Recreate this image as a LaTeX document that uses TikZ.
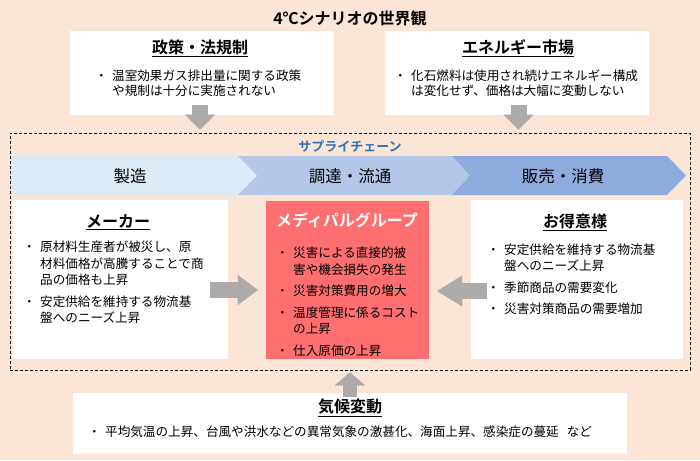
\documentclass[tikz,border=0pt]{standalone}
\usepackage{fontspec}
\setmainfont{Noto Sans CJK JP}[BoldFont={Noto Sans CJK JP Bold}]
\usetikzlibrary{positioning,arrows.meta}
\definecolor{peach}{HTML}{FBE5D6}
\definecolor{chainlight}{HTML}{DDEBF7}
\definecolor{chainmid}{HTML}{B4C7E7}
\definecolor{chaindark}{HTML}{8FAADC}
\definecolor{groupred}{HTML}{FF6F6F}
\definecolor{chainblue}{HTML}{2E75B6}
\definecolor{arrowgray}{HTML}{AEAAAA}
\newcommand{\bul}{\makebox[17pt][l]{・}}
\newcommand{\cont}{\hspace*{17pt}}

\begin{document}
\begin{tikzpicture}[x=1pt, y=-1pt,
	whitebox/.style={fill=white, inner sep=0pt},
	headtext/.style={font=\fontsize{16}{18}\selectfont\bfseries},
	bodytext/.style={font=\fontsize{12.6}{16.5}\selectfont, align=left, anchor=west, inner sep=0pt},
	chaintext/.style={font=\fontsize{16.5}{18}\selectfont},
	grayarrow/.style={draw=arrowgray, line width=16pt}]

	\useasboundingbox (0,0) rectangle (700,460);
	\fill[peach] (0,0) rectangle (700,460);

	\node[headtext] (title) at (350,18) {4℃シナリオの世界観};

	% scenario boxes
	\node[whitebox, minimum width=264pt, minimum height=84pt] (policy) at (202,73) {};
	\node[whitebox, minimum width=264pt, minimum height=84pt] (energy) at (517,73) {};
	\node[headtext] (policyhead) at (200,48) {\underline{政策・法規制}};
	\node[headtext] (energyhead) at (518,48) {\underline{エネルギー市場}};
	\node[bodytext, font=\fontsize{12.6}{15}\selectfont] (policybody) at (95,83.5)
		{\bul 温室効果ガス排出量に関する政策\\ \cont や規制は十分に実施されない};
	\node[bodytext, font=\fontsize{12.6}{15}\selectfont] (energybody) at (394,83.5)
		{\bul 化石燃料は使用され続けエネルギー構成\\ \cont は変化せず、価格は大幅に変動しない};

	% supply chain
	\node[draw, dashed, line width=0.6pt, dash pattern=on 3pt off 2pt, inner sep=0pt,
		minimum width=680pt, minimum height=237pt] (chain) at (350,251.5) {};
	\node[font=\fontsize{13}{15}\selectfont\bfseries, text=chainblue] (chainlabel) at (350,146) {サプライチェーン};

	\fill[chainlight] (11,156) -- (238,156) -- (257,175.5) -- (238,195) -- (11,195) -- cycle;
	\fill[chainmid] (238,156) -- (452,156) -- (470,175.5) -- (452,195) -- (238,195) -- (257,175.5) -- cycle;
	\fill[chaindark] (452,156) -- (667,156) -- (686,175.5) -- (667,195) -- (452,195) -- (470,175.5) -- cycle;
	\node[chaintext] (make) at (130,176) {製造};
	\node[chaintext] (procure) at (350,176) {調達・流通};
	\node[chaintext] (sell) at (563,176) {販売・消費};

	\node[whitebox, minimum width=215pt, minimum height=159pt] (maker) at (120.5,279.5) {};
	\node[fill=groupred, inner sep=0pt, minimum width=163pt, minimum height=158pt] (group) at (347.5,280) {};
	\node[whitebox, minimum width=212pt, minimum height=159pt] (customer) at (577,279.5) {};

	\node[headtext] (makerhead) at (118,222) {\underline{メーカー}};
	\node[headtext, text=white] (grouphead) at (347,220) {メディパルグループ};
	\node[headtext] (customerhead) at (575,222) {\underline{お得意様}};

	\node[bodytext] (makerbody) at (23,282.5)
		{\bul 原材料生産者が被災し、原\\ \cont 材料価格が高騰することで商\\ \cont 品の価格も上昇\\[5pt]
		 \bul 安定供給を維持する物流基\\ \cont 盤へのニーズ上昇};
	\node[bodytext] (groupbody) at (276,301.5)
		{\bul 災害による直接的被\\ \cont 害や機会損失の発生\\[5pt]
		 \bul 災害対策費用の増大\\[5pt]
		 \bul 温度管理に係るコスト\\ \cont の上昇\\[5pt]
		 \bul 仕入原価の上昇};
	\node[bodytext] (customerbody) at (487,279)
		{\bul 安定供給を維持する物流基\\ \cont 盤へのニーズ上昇\\[5pt]
		 \bul 季節商品の需要変化\\[5pt]
		 \bul 災害対策商品の需要増加};

	% climate
	\node[whitebox, minimum width=554pt, minimum height=61pt] (climate) at (350,423.5) {};
	\node[headtext] (climatehead) at (350,408) {\underline{気候変動}};
	\node[bodytext] (climatebody) at (88,432)
		{\bul 平均気温の上昇、台風や洪水などの異常気象の激甚化、海面上昇、感染症の蔓延\hspace{8pt}など};

	% arrows
	\draw[grayarrow, -{Triangle[length=15pt, width=30pt, line width=0.1pt]}]
		([xshift=-2pt, yshift=10pt]policy.south) -- ([xshift=-2pt, yshift=3pt]policy.south |- chain.north);
	\draw[grayarrow, -{Triangle[length=15pt, width=30pt, line width=0.1pt]}]
		([xshift=1.5pt, yshift=10pt]energy.south) -- ([xshift=1.5pt, yshift=3pt]energy.south |- chain.north);
	\draw[grayarrow, -{Triangle[length=20pt, width=30pt, line width=0.1pt]}]
		([xshift=-18pt, yshift=-10.5pt]maker.east) -- ([xshift=-8pt, yshift=-10pt]group.west);
	\draw[grayarrow, -{Triangle[length=25pt, width=31pt, line width=0.1pt]}]
		([xshift=16pt, yshift=-11.5pt]customer.west) -- ([xshift=8pt, yshift=-11pt]group.east);
	\draw[grayarrow, line width=14pt, -{Triangle[length=13pt, width=30pt, line width=0.1pt]}]
		([yshift=-4pt]climate.north) -- ([yshift=-2pt]chain.south);

\end{tikzpicture}
\end{document}
